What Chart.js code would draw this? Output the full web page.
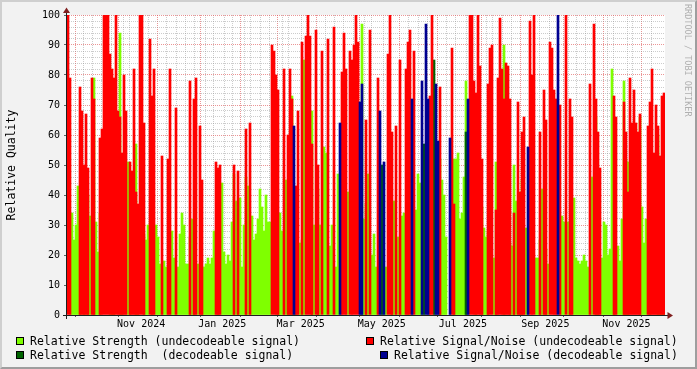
<!DOCTYPE html>
<html>
<head>
<meta charset="utf-8">
<title>Relative Quality</title>
<script src="https://cdn.jsdelivr.net/npm/chart.js@4.4.1/dist/chart.umd.min.js"></script>
<style>
  html, body { margin:0; padding:0; background:#f2f2f2; }
  #wrap { position:relative; width:697px; height:369px; overflow:hidden; background:#f2f2f2; }
  #chart { position:absolute; left:0; top:0; }
  #frame { position:absolute; left:0; top:0; width:693px; height:365px; border-style:solid; border-width:2px;
           border-color:#cfcfcf #9e9e9e #9e9e9e #cfcfcf; pointer-events:none; }
  .lg { position:absolute; font-family:"DejaVu Sans Mono", monospace; font-size:11.5px; line-height:14px; white-space:pre; color:#000; }
  .sw { position:absolute; width:6px; height:6px; border:1px solid #000; }
  #wm { position:absolute; left:683px; top:4px; writing-mode:vertical-rl; font-family:"DejaVu Sans Mono", monospace;
        font-size:8.5px; line-height:10px; color:#b0b0b0; white-space:pre; }
</style>
</head>
<body>
<div id="wrap">
  <canvas id="chart" width="697" height="369"></canvas>
  <div class="sw" style="left:16px;top:337px;background:#7fff00"></div>
  <div class="lg" style="left:30px;top:334px">Relative Strength (undecodeable signal)</div>
  <div class="sw" style="left:366px;top:337px;background:#ff0000"></div>
  <div class="lg" style="left:380px;top:334px">Relative Signal/Noise (undecodeable signal)</div>
  <div class="sw" style="left:16px;top:351px;background:#006400"></div>
  <div class="lg" style="left:30px;top:348px">Relative Strength  (decodeable signal)</div>
  <div class="sw" style="left:380px;top:351px;background:#000090"></div>
  <div class="lg" style="left:394px;top:348px">Relative Signal/Noise (decodeable signal)</div>
  <div id="wm">RRDTOOL / TOBI OETIKER</div>
  <div id="frame"></div>
</div>
<script>
// ---- data (one value per ~1.5-day bucket) ----
const seriesNames = [
  'Relative Strength (undecodeable signal)',
  'Relative Signal/Noise (undecodeable signal)',
  'Relative Strength  (decodeable signal)',
  'Relative Signal/Noise (decodeable signal)'
];
const strengthUndecodeable = [
  0,0,34,25,30,43,28,0,35,0,
  40,33,0,79,31,21,34,0,0,0,
  0,33,42,42,0,0,94,43,0,0,
  51,48,0,0,57,27,0,0,27,25,
  30,0,60,0,30,26,17,0,18,16,
  0,0,28,19,0,16,27,34,30,17,
  17,26,32,22,0,17,0,16,16,17,
  19,17,19,28,0,28,0,44,21,17,
  20,18,31,47,38,22,39,16,30,46,
  43,0,33,25,27,32,42,36,28,40,
  31,31,0,0,0,34,34,28,0,45,
  29,42,73,0,33,0,24,25,85,0,
  0,0,68,30,0,42,30,0,56,54,
  0,23,30,0,16,47,0,0,0,0,
  41,0,0,0,0,0,0,97,32,37,
  47,0,20,27,16,0,0,0,0,16,
  0,0,33,38,0,26,0,33,34,0,
  59,0,0,0,35,47,44,0,0,0,
  0,0,0,0,0,0,52,45,40,26,
  0,0,0,52,52,54,32,34,46,78,
  0,0,0,0,29,0,0,36,29,26,
  28,0,0,19,51,0,0,0,90,0,
  0,24,23,50,38,0,17,45,0,29,
  0,0,0,0,19,19,25,42,0,22,
  17,0,0,0,0,0,0,33,31,0,
  31,18,0,39,19,18,17,18,20,18,
  16,0,46,0,66,34,0,19,31,30,
  20,22,82,37,0,23,18,32,78,52,
  51,0,0,0,0,0,66,36,24,32,
  0,44,0,0,0,60,38,33,34
];
const snrUndecodeable = [
  100,79,0,0,0,0,76,68,50,67,
  49,0,79,72,0,0,59,62,100,100,
  100,87,82,79,100,68,66,54,80,68,
  0,51,48,82,41,37,100,100,64,0,
  0,92,73,82,0,0,0,53,0,0,
  52,82,0,0,69,0,0,0,0,0,
  0,78,0,72,79,0,63,45,0,0,
  0,0,0,0,51,49,50,0,0,0,
  0,0,0,50,0,48,0,0,0,62,
  0,64,0,0,0,0,0,0,0,0,
  0,0,90,88,80,75,0,0,82,0,
  60,82,72,0,43,68,0,91,0,93,
  100,93,57,0,95,50,0,88,0,0,
  92,0,0,96,0,0,0,81,94,82,
  0,88,85,90,100,91,0,0,0,65,
  0,95,0,0,0,79,0,0,0,0,
  87,100,61,0,63,0,85,0,0,82,
  91,95,0,88,0,0,0,0,0,0,
  0,73,100,0,0,0,76,0,0,0,
  0,0,89,37,0,0,0,0,0,0,
  0,100,100,78,74,100,83,52,0,0,
  77,89,90,0,35,79,99,82,72,84,
  83,72,0,34,0,71,41,61,66,0,
  0,98,80,100,0,0,61,0,75,65,
  0,91,89,75,72,0,70,0,0,100,
  0,72,66,0,0,0,0,0,0,0,
  0,77,0,97,72,61,49,0,0,0,
  0,0,0,73,66,0,0,0,71,61,
  41,79,64,75,64,61,67,0,0,0,
  63,71,82,54,70,63,53,73,74
];
const strengthDecodeable = [
  0,0,0,0,0,0,0,0,0,0,
  0,0,0,0,0,0,0,0,0,0,
  0,0,0,0,0,0,0,0,0,0,
  0,0,0,0,0,0,0,0,0,0,
  0,0,0,0,0,0,0,0,0,0,
  0,0,0,0,0,0,0,0,0,0,
  0,0,0,0,0,0,0,0,0,0,
  0,0,0,0,0,0,0,0,0,0,
  0,0,0,0,0,0,0,0,0,0,
  0,0,0,0,0,0,0,0,0,0,
  0,0,0,0,0,0,0,0,0,0,
  0,0,0,0,0,0,0,0,0,0,
  0,0,0,0,0,0,0,0,0,0,
  0,0,0,0,0,0,0,0,0,0,
  0,0,0,0,0,0,0,0,0,0,
  0,0,0,0,0,0,0,50,0,0,
  0,0,0,0,0,0,0,0,0,0,
  0,0,0,0,0,0,0,0,57,0,
  0,0,0,85,0,0,0,0,0,0,
  0,0,0,0,0,0,0,0,0,61,
  0,0,0,0,0,0,0,0,0,0,
  0,0,0,0,0,0,0,0,0,0,
  0,0,0,0,0,0,0,0,0,0,
  0,0,0,0,0,0,0,0,0,0,
  0,0,0,0,0,0,0,0,0,0,
  0,0,0,0,0,0,0,0,0,0,
  0,0,0,0,0,0,0,0,0,0,
  0,0,0,0,0,0,0,0,0,0,
  0,0,0,0,0,0,0,0,0,0,
  0,0,0,0,0,0,0,0,0
];
const snrDecodeable = [
  0,0,0,0,0,0,0,0,0,0,
  0,0,0,0,0,0,0,0,0,0,
  0,0,0,0,0,0,0,0,0,0,
  0,0,0,0,0,0,0,0,0,0,
  0,0,0,0,0,0,0,0,0,0,
  0,0,0,0,0,0,0,0,0,0,
  0,0,0,0,0,0,0,0,0,0,
  0,0,0,0,0,0,0,0,0,0,
  0,0,0,0,0,0,0,0,0,0,
  0,0,0,0,0,0,0,0,0,0,
  0,0,0,0,0,0,0,0,0,0,
  0,0,0,63,0,0,0,0,0,0,
  0,0,0,0,0,0,0,0,0,0,
  0,0,0,0,0,0,64,0,0,0,
  0,0,0,0,0,0,71,77,0,0,
  0,0,0,0,0,0,68,0,51,0,
  0,0,0,0,0,0,0,0,0,0,
  0,0,72,0,0,0,0,78,0,97,
  72,0,0,0,77,58,0,0,0,0,
  0,59,0,0,0,0,0,0,0,0,
  72,0,0,0,0,0,0,0,0,0,
  0,0,0,0,0,0,0,0,0,0,
  0,0,0,0,0,0,0,0,0,0,
  56,0,0,0,0,0,0,0,0,0,
  0,0,0,0,0,100,0,0,0,0,
  0,0,0,0,0,0,0,0,0,0,
  0,0,0,0,0,0,0,0,0,0,
  0,0,0,0,0,0,0,0,0,0,
  0,0,0,0,0,0,0,0,0,0,
  0,0,0,0,0,0,0,0,0
];
const xTickLabels = ['Nov 2024', 'Jan 2025', 'Mar 2025', 'May 2025', 'Jul 2025', 'Sep 2025', 'Nov 2025'];
const yTickLabels = ['0', '10', '20', '30', '40', '50', '60', '70', '80', '90', '100'];
const monthNames = ['Jan','Feb','Mar','Apr','May','Jun','Jul','Aug','Sep','Oct','Nov','Dec'];

// time span shown by the graph (left edge and length in days)
const DAY = 86400000;
const startTime = Date.UTC(2024, 8, 24, 3);
const spanDays = 444;
const bucketDays = spanDays / strengthUndecodeable.length;
const categories = strengthUndecodeable.map((_, i) => new Date(startTime + i * bucketDays * DAY).toISOString().slice(0, 10));

const colors = ['#7fff00', '#ff0000', '#006400', '#000090'];
const GRID = 'rgba(143,143,143,0.45)';
const MGRID = 'rgba(222,79,79,0.6)';
const FONT_FAMILY = '"DejaVu Sans Mono", monospace';

function nz(arr) { return arr.map(v => (v > 0 ? v : null)); }

function buildTimeTicks() {
  const t = [];
  // month starts (major grid)
  let y = 2024, m = 8;
  for (;;) {
    const v = (Date.UTC(y, m, 1) - startTime) / DAY;
    if (v > spanDays) break;
    if (v >= 0) t.push({ value: v, kind: 'major' });
    m++; if (m > 11) { m = 0; y++; }
  }
  // weekly minor grid (Mondays)
  let d = Date.UTC(2024, 8, 30);
  while ((d - startTime) / DAY <= spanDays) {
    const v = (d - startTime) / DAY;
    if (v >= 0 && !t.some(k => Math.abs(k.value - v) < 2)) t.push({ value: v, kind: 'minor' });
    d += 7 * DAY;
  }
  // labels centred in the middle of their month
  xTickLabels.forEach(lbl => {
    const [mon, yr] = lbl.split(' ');
    const v = (Date.UTC(+yr, monthNames.indexOf(mon), 1) + 15 * DAY - startTime) / DAY;
    t.push({ value: v, kind: 'label', text: lbl });
  });
  t.sort((a, b) => a.value - b.value);
  return t;
}

const plotBg = {
  id: 'plotBg',
  beforeDraw(chart) {
    const { ctx, chartArea: a } = chart;
    ctx.save();
    ctx.fillStyle = '#ffffff';
    ctx.fillRect(a.left, a.top, a.right - a.left, a.bottom - a.top);
    ctx.restore();
  }
};
const axesArrows = {
  id: 'axesArrows',
  afterDraw(chart) {
    const { ctx, chartArea: a } = chart;
    ctx.save();
    ctx.strokeStyle = '#1f1f1f';
    ctx.lineWidth = 1;
    ctx.beginPath();
    ctx.moveTo(a.left - 4, a.bottom + 0.5); ctx.lineTo(a.right + 4, a.bottom + 0.5);
    ctx.moveTo(a.left - 0.5, a.bottom + 4); ctx.lineTo(a.left - 0.5, a.top - 4);
    ctx.stroke();
    ctx.fillStyle = '#801f1f';
    ctx.beginPath();
    ctx.moveTo(a.right + 2.5, a.bottom - 3); ctx.lineTo(a.right + 2.5, a.bottom + 4); ctx.lineTo(a.right + 8, a.bottom + 0.5);
    ctx.closePath(); ctx.fill();
    ctx.beginPath();
    ctx.moveTo(a.left - 4, a.top - 2); ctx.lineTo(a.left + 3, a.top - 2); ctx.lineTo(a.left - 0.5, a.top - 7.5);
    ctx.closePath(); ctx.fill();
    ctx.restore();
  }
};

const barCommon = { grouped: false, barPercentage: 1, categoryPercentage: 1, borderWidth: 0, borderSkipped: false };

new Chart(document.getElementById('chart'), {
  type: 'bar',
  data: {
    labels: categories,
    datasets: [
      { label: seriesNames[0], data: nz(strengthUndecodeable), backgroundColor: colors[0], order: 3, ...barCommon },
      { label: seriesNames[1], data: nz(snrUndecodeable), backgroundColor: colors[1], order: 1, ...barCommon },
      { label: seriesNames[2], data: nz(strengthDecodeable), backgroundColor: colors[2], order: 2, ...barCommon },
      { label: seriesNames[3], data: nz(snrDecodeable), backgroundColor: colors[3], order: 0, ...barCommon }
    ]
  },
  options: {
    responsive: false,
    animation: false,
    events: [],
    devicePixelRatio: 1,
    layout: { padding: { left: 0, right: 32, top: 15, bottom: 0 } },
    plugins: { legend: { display: false }, tooltip: { enabled: false }, title: { display: false } },
    scales: {
      x: { type: 'category', display: false, offset: true },
      x2: {
        type: 'linear', axis: 'x', position: 'bottom', min: 0, max: spanDays, z: 1,
        afterBuildTicks: (scale) => { scale.ticks = buildTimeTicks(); },
        afterFit: (scale) => { scale.height = 54; },
        border: { display: false, dash: [1, 1] },
        grid: {
          drawOnChartArea: true, drawTicks: true, tickLength: 2, lineWidth: 1,
          color: (c) => c.tick && c.tick.kind === 'major' ? MGRID : (c.tick && c.tick.kind === 'minor' ? GRID : 'rgba(0,0,0,0)'),
          tickColor: (c) => c.tick && c.tick.kind === 'major' ? '#606060' : 'rgba(0,0,0,0)',
          tickBorderDash: []
        },
        ticks: {
          autoSkip: false, maxRotation: 0, minRotation: 0, padding: 1, color: '#000',
          font: { family: FONT_FAMILY, size: 10 },
          callback: (v, i, ticks) => ticks[i].text || ''
        }
      },
      y: {
        type: 'linear', position: 'left', min: 0, max: 100, z: 1,
        afterBuildTicks: (scale) => {
          const t = [];
          for (let v = 0; v <= 100; v += 2) t.push({ value: v, major: v % 10 === 0 });
          scale.ticks = t;
        },
        afterFit: (scale) => { scale.width = 67; },
        border: { display: false, dash: [1, 1] },
        grid: {
          drawTicks: true, tickLength: 3, lineWidth: 1,
          color: (c) => c.tick && c.tick.value % 10 === 0 ? MGRID : GRID,
          tickColor: (c) => c.tick && c.tick.value % 10 === 0 ? '#606060' : 'rgba(0,0,0,0)',
          tickBorderDash: []
        },
        ticks: {
          autoSkip: false, padding: 4, color: '#000',
          font: { family: FONT_FAMILY, size: 10 },
          callback: (v) => (v % 10 === 0 ? yTickLabels[v / 10] : '')
        },
        title: {
          display: true, text: 'Relative Quality', color: '#000',
          font: { family: FONT_FAMILY, size: 11.5 },
          padding: { top: 5, bottom: 0 }
        }
      }
    }
  },
  plugins: [plotBg, axesArrows]
});
</script>
</body>
</html>
